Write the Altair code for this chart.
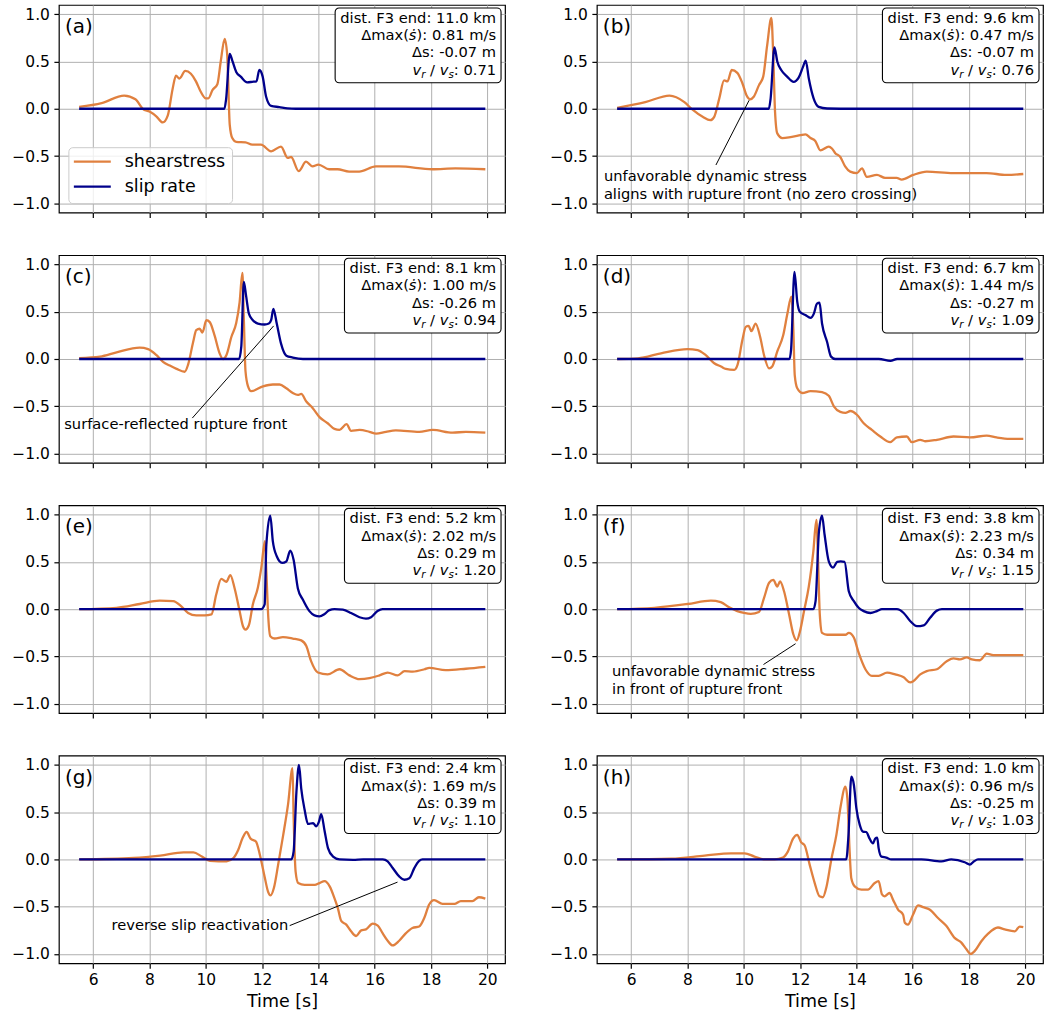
import altair as alt
import pandas as pd

# ---------------- data ----------------
SERIES = ["shearstress", "slip rate"]

SHEAR_A_T = [5.5, 6.3, 7.1, 7.5, 7.76, 8.0, 8.24, 8.47, 8.65, 8.82, 8.94, 9.06, 9.27, 9.47, 9.65, 9.82, 10.0, 10.09, 10.24, 10.41, 10.53, 10.67, 10.76, 10.85, 10.94, 11.08, 11.41, 11.65, 11.96, 12.32, 12.67, 12.91, 13.03, 13.3, 13.56, 13.79, 14.0, 14.38, 14.68, 15.09, 15.45, 16.04, 16.86, 18.04, 18.87, 19.93]
SHEAR_A_V = [0.02, 0.06, 0.14, 0.10, 0.0, -0.03, -0.08, -0.145, -0.07, 0.21, 0.35, 0.32, 0.40, 0.37, 0.29, 0.18, 0.11, 0.11, 0.20, 0.26, 0.50, 0.74, 0.57, -0.17, -0.31, -0.35, -0.355, -0.38, -0.38, -0.45, -0.40, -0.52, -0.51, -0.66, -0.56, -0.61, -0.59, -0.64, -0.64, -0.665, -0.665, -0.61, -0.61, -0.64, -0.63, -0.64]
SLIP_A_T = [5.5, 10.66, 10.72, 10.85, 10.94, 11.08, 11.24, 11.47, 11.65, 11.8, 11.9, 12.02, 12.14, 12.32, 12.61, 12.9, 13.2, 19.93]
SLIP_A_V = [0, 0, 0.1, 0.58, 0.51, 0.39, 0.34, 0.28, 0.285, 0.29, 0.41, 0.34, 0.13, 0.03, 0.018, 0.005, 0, 0]

SHEAR_B_T = [5.5, 6.5, 7.36, 7.89, 8.18, 8.54, 8.81, 8.95, 9.13, 9.30, 9.42, 9.57, 9.77, 9.95, 10.1, 10.22, 10.36, 10.54, 10.69, 10.83, 10.98, 11.05, 11.11, 11.19, 11.37, 11.66, 12.01, 12.19, 12.37, 12.54, 12.72, 13.02, 13.13, 13.25, 13.43, 13.6, 13.78, 14.02, 14.2, 14.37, 14.73, 15.02, 15.43, 15.61, 16.02, 16.5, 17.44, 18.62, 19.33, 19.93]
SHEAR_B_V = [0.01, 0.07, 0.14, 0.07, -0.01, -0.085, -0.12, -0.085, 0.11, 0.30, 0.29, 0.41, 0.38, 0.27, 0.14, 0.10, 0.13, 0.25, 0.34, 0.67, 0.96, 0.53, -0.03, -0.26, -0.31, -0.30, -0.28, -0.27, -0.31, -0.34, -0.44, -0.40, -0.42, -0.47, -0.51, -0.61, -0.665, -0.68, -0.63, -0.72, -0.70, -0.73, -0.73, -0.75, -0.70, -0.665, -0.68, -0.68, -0.70, -0.69]
SLIP_B_T = [5.5, 10.89, 10.95, 11.09, 11.19, 11.33, 11.54, 11.77, 11.95, 12.1, 12.2, 12.31, 12.48, 12.66, 12.96, 13.9, 19.93]
SLIP_B_V = [0, 0, 0.1, 0.65, 0.50, 0.41, 0.34, 0.285, 0.33, 0.44, 0.51, 0.32, 0.11, 0.02, 0.003, 0, 0]

SHEAR_C_T = [5.5, 6.24, 6.83, 7.65, 7.95, 8.25, 8.48, 8.72, 8.96, 9.25, 9.37, 9.55, 9.66, 9.78, 9.88, 10.02, 10.14, 10.31, 10.49, 10.61, 10.73, 10.91, 11.08, 11.2, 11.3, 11.35, 11.41, 11.5, 11.61, 12.03, 12.38, 12.62, 12.86, 13.09, 13.27, 13.39, 13.57, 13.8, 14.04, 14.33, 14.57, 14.75, 15.0, 15.16, 15.46, 15.81, 16.05, 16.4, 16.75, 17.58, 18.06, 18.77, 19.24, 19.93]
SHEAR_C_V = [0.01, 0.025, 0.07, 0.12, 0.105, 0.04, -0.03, -0.07, -0.105, -0.135, -0.06, 0.18, 0.305, 0.32, 0.28, 0.41, 0.39, 0.25, 0.06, 0.0, 0.04, 0.235, 0.38, 0.60, 0.91, 0.43, -0.13, -0.29, -0.34, -0.29, -0.27, -0.27, -0.31, -0.36, -0.38, -0.37, -0.45, -0.52, -0.615, -0.68, -0.74, -0.75, -0.69, -0.76, -0.75, -0.77, -0.79, -0.77, -0.755, -0.77, -0.75, -0.78, -0.77, -0.78]
SLIP_C_T = [5.5, 11.18, 11.26, 11.35, 11.43, 11.53, 11.67, 11.85, 12.09, 12.24, 12.32, 12.4, 12.52, 12.67, 12.86, 13.09, 13.45, 19.93]
SLIP_C_V = [0, 0, 0.13, 0.815, 0.67, 0.48, 0.41, 0.375, 0.365, 0.375, 0.41, 0.53, 0.375, 0.165, 0.035, 0.015, 0, 0]

SHEAR_D_T = [5.5, 6.24, 7.06, 8.0, 8.36, 8.65, 8.95, 9.19, 9.36, 9.66, 9.78, 9.95, 10.07, 10.17, 10.27, 10.42, 10.58, 10.72, 10.9, 11.01, 11.19, 11.4, 11.55, 11.69, 11.76, 11.81, 11.9, 12.08, 12.37, 12.78, 13.02, 13.2, 13.43, 13.61, 13.79, 14.02, 14.26, 14.55, 14.85, 15.2, 15.44, 15.79, 15.97, 16.27, 16.44, 16.86, 17.45, 18.04, 18.63, 18.98, 19.45, 19.93]
SHEAR_D_V = [0.0, 0.007, 0.06, 0.105, 0.095, 0.04, -0.045, -0.08, -0.105, -0.115, -0.06, 0.20, 0.34, 0.35, 0.295, 0.375, 0.235, 0.04, -0.10, -0.08, 0.08, 0.25, 0.48, 0.66, 0.32, -0.17, -0.31, -0.36, -0.34, -0.35, -0.39, -0.50, -0.56, -0.57, -0.55, -0.59, -0.68, -0.75, -0.82, -0.88, -0.83, -0.82, -0.88, -0.855, -0.87, -0.855, -0.82, -0.83, -0.81, -0.83, -0.845, -0.845]
SLIP_D_T = [5.5, 11.62, 11.68, 11.8, 11.9, 11.99, 12.19, 12.37, 12.49, 12.6, 12.69, 12.78, 12.96, 13.1, 13.25, 14.8, 15.21, 15.45, 19.93]
SLIP_D_V = [0, 0, 0.1, 0.92, 0.605, 0.50, 0.465, 0.435, 0.48, 0.585, 0.595, 0.375, 0.18, 0.025, 0, 0, -0.02, 0, 0]

SHEAR_E_T = [5.5, 6.83, 7.65, 8.36, 8.84, 9.13, 9.37, 9.66, 9.96, 10.2, 10.37, 10.55, 10.73, 10.87, 11.02, 11.2, 11.32, 11.41, 11.53, 11.67, 11.85, 11.97, 12.1, 12.15, 12.22, 12.29, 12.44, 12.74, 13.09, 13.39, 13.57, 13.74, 13.98, 14.33, 14.75, 15.1, 15.46, 15.81, 16.17, 16.46, 16.82, 17.06, 17.35, 17.77, 17.94, 18.52, 19.24, 19.93]
SHEAR_E_V = [0.0, 0.015, 0.055, 0.09, 0.085, 0.03, -0.04, -0.065, -0.065, -0.055, 0.155, 0.32, 0.29, 0.36, 0.225, -0.02, -0.18, -0.215, -0.17, 0.05, 0.23, 0.435, 0.72, 0.40, -0.09, -0.285, -0.31, -0.295, -0.31, -0.33, -0.39, -0.55, -0.67, -0.69, -0.635, -0.70, -0.74, -0.73, -0.70, -0.67, -0.70, -0.655, -0.66, -0.635, -0.62, -0.645, -0.63, -0.61]
SLIP_E_T = [5.5, 11.97, 12.09, 12.15, 12.29, 12.38, 12.52, 12.71, 12.86, 13.0, 13.12, 13.27, 13.45, 13.68, 13.86, 14.04, 14.22, 14.39, 14.57, 14.87, 15.16, 15.46, 15.69, 15.87, 16.1, 16.28, 19.93]
SLIP_E_V = [0, 0, 0.05, 0.68, 0.99, 0.72, 0.56, 0.49, 0.505, 0.62, 0.52, 0.22, 0.10, -0.02, -0.065, -0.075, -0.05, -0.01, 0, -0.005, -0.04, -0.085, -0.10, -0.085, -0.02, 0, 0]

SHEAR_F_T = [5.5, 6.83, 8.01, 8.83, 9.18, 9.48, 9.77, 10.01, 10.25, 10.54, 10.72, 10.9, 11.05, 11.19, 11.29, 11.43, 11.61, 11.76, 11.88, 12.0, 12.14, 12.31, 12.47, 12.58, 12.64, 12.7, 12.78, 12.96, 13.32, 13.61, 13.73, 13.91, 14.08, 14.32, 14.55, 14.79, 15.09, 15.38, 15.68, 15.91, 16.03, 16.27, 16.5, 16.86, 17.21, 17.45, 17.68, 17.92, 18.1, 18.39, 18.63, 18.86, 19.33, 19.93]
SHEAR_F_V = [0.0, 0.015, 0.055, 0.09, 0.075, 0.02, -0.02, -0.04, -0.05, -0.03, 0.12, 0.28, 0.31, 0.24, 0.295, 0.19, -0.055, -0.265, -0.33, -0.23, -0.02, 0.24, 0.61, 0.945, 0.50, -0.055, -0.25, -0.27, -0.27, -0.27, -0.25, -0.30, -0.46, -0.635, -0.705, -0.705, -0.67, -0.69, -0.72, -0.775, -0.76, -0.69, -0.655, -0.635, -0.55, -0.52, -0.53, -0.51, -0.53, -0.54, -0.47, -0.485, -0.485, -0.485]
SLIP_F_T = [5.5, 12.47, 12.55, 12.67, 12.78, 12.87, 13.02, 13.17, 13.32, 13.44, 13.58, 13.73, 13.91, 14.08, 14.26, 14.5, 14.73, 14.91, 15.44, 15.68, 15.91, 16.15, 16.39, 16.62, 16.86, 17.04, 19.93]
SLIP_F_V = [0, 0, 0.085, 0.82, 0.99, 0.79, 0.505, 0.44, 0.50, 0.505, 0.50, 0.19, 0.085, 0.015, -0.02, -0.04, -0.02, 0, 0, -0.04, -0.125, -0.18, -0.17, -0.09, -0.015, 0, 0]

SHEAR_G_T = [5.5, 7.44, 8.38, 9.21, 9.56, 9.86, 10.15, 10.45, 10.74, 10.98, 11.15, 11.31, 11.45, 11.59, 11.78, 11.92, 12.1, 12.21, 12.3, 12.42, 12.57, 12.75, 12.92, 13.08, 13.12, 13.19, 13.28, 13.51, 13.87, 14.04, 14.22, 14.4, 14.57, 14.69, 14.81, 14.99, 15.16, 15.34, 15.52, 15.69, 15.93, 16.11, 16.28, 16.46, 16.64, 16.87, 17.11, 17.34, 17.58, 17.76, 17.93, 18.11, 18.41, 18.83, 19.06, 19.23, 19.47, 19.7, 19.93]
SHEAR_G_V = [0.0, 0.015, 0.04, 0.075, 0.075, 0.03, -0.015, -0.02, -0.02, 0.015, 0.10, 0.23, 0.29, 0.22, 0.19, 0.05, -0.20, -0.34, -0.38, -0.30, -0.055, 0.26, 0.58, 0.965, 0.44, -0.13, -0.25, -0.27, -0.27, -0.25, -0.23, -0.285, -0.41, -0.515, -0.65, -0.69, -0.76, -0.81, -0.75, -0.74, -0.68, -0.70, -0.78, -0.86, -0.91, -0.86, -0.78, -0.725, -0.71, -0.62, -0.48, -0.43, -0.47, -0.47, -0.44, -0.44, -0.44, -0.40, -0.415]
SLIP_G_T = [5.5, 13.04, 13.12, 13.22, 13.31, 13.39, 13.51, 13.63, 13.81, 13.92, 14.02, 14.1, 14.22, 14.34, 14.52, 14.75, 15.23, 15.59, 16.29, 16.46, 16.64, 16.87, 17.05, 17.23, 17.41, 17.58, 17.7, 19.93]
SLIP_G_V = [0, 0, 0.085, 0.72, 1.0, 0.75, 0.525, 0.375, 0.385, 0.35, 0.40, 0.48, 0.30, 0.12, 0.03, 0, -0.005, 0, 0, -0.02, -0.09, -0.18, -0.215, -0.20, -0.09, -0.015, 0, 0]

SHEAR_H_T = [5.5, 7.42, 8.61, 9.55, 10.03, 10.38, 10.74, 11.09, 11.39, 11.57, 11.75, 11.9, 12.04, 12.16, 12.34, 12.52, 12.69, 12.81, 12.93, 13.11, 13.29, 13.44, 13.61, 13.68, 13.76, 13.82, 13.94, 14.18, 14.41, 14.65, 14.79, 14.91, 15.0, 15.18, 15.3, 15.48, 15.66, 15.72, 15.83, 16.01, 16.19, 16.37, 16.6, 16.9, 17.2, 17.49, 17.73, 17.91, 18.06, 18.2, 18.44, 18.68, 19.03, 19.27, 19.63, 19.8, 19.93]
SHEAR_H_V = [0.0, 0.007, 0.04, 0.065, 0.065, 0.03, 0.0, 0.0, 0.02, 0.085, 0.22, 0.26, 0.18, 0.15, -0.055, -0.25, -0.39, -0.40, -0.30, 0.0, 0.26, 0.56, 0.77, 0.645, 0.085, -0.20, -0.285, -0.32, -0.32, -0.25, -0.23, -0.37, -0.39, -0.355, -0.425, -0.53, -0.585, -0.67, -0.69, -0.585, -0.485, -0.505, -0.53, -0.62, -0.705, -0.83, -0.88, -0.95, -1.0, -0.97, -0.865, -0.785, -0.72, -0.74, -0.76, -0.71, -0.715]
SLIP_H_T = [5.5, 13.64, 13.72, 13.82, 13.91, 14.0, 14.12, 14.23, 14.35, 14.47, 14.59, 14.67, 14.74, 14.79, 14.89, 15.06, 15.24, 16.31, 17.02, 17.37, 17.85, 18.03, 18.18, 18.32, 19.93]
SLIP_H_V = [0, 0, 0.26, 0.875, 0.79, 0.54, 0.365, 0.295, 0.29, 0.22, 0.17, 0.22, 0.23, 0.12, 0.03, 0.02, 0, 0, -0.02, 0, -0.03, -0.055, -0.02, 0, 0]

PANEL_IDS = ["a", "b", "c", "d", "e", "f", "g", "h"]
DIST_KM = [11.0, 9.6, 8.1, 6.7, 5.2, 3.8, 2.4, 1.0]
DMAX = [0.81, 0.47, 1.00, 1.44, 2.02, 2.23, 1.69, 0.96]
DSLIP = ["-0.07", "-0.07", "-0.26", "-0.27", "0.29", "0.34", "0.39", "-0.25"]
VR_VS = [0.71, 0.76, 0.94, 1.09, 1.20, 1.15, 1.10, 1.03]

# annotations: text lines, text anchor (time, value), connector from (x0,y0) to (x1,y1)
ANNOTATIONS = {
    1: dict(lines=["unfavorable dynamic stress", "aligns with rupture front (no zero crossing)"],
            tx=5.03, ty=-0.72, x0=9.01, y0=-0.595, x1=10.19, y1=0.09),
    2: dict(lines=["surface-reflected rupture front"],
            tx=4.97, ty=-0.70, x0=9.52, y0=-0.625, x1=12.41, y1=0.35),
    5: dict(lines=["unfavorable dynamic stress", "in front of rupture front"],
            tx=5.32, ty=-0.66, x0=10.70, y0=-0.585, x1=11.84, y1=-0.365),
    6: dict(lines=["reverse slip reactivation"],
            tx=6.65, ty=-0.70, x0=12.98, y0=-0.70, x1=16.81, y1=-0.24),
}

SHEAR_T = [SHEAR_A_T, SHEAR_B_T, SHEAR_C_T, SHEAR_D_T, SHEAR_E_T, SHEAR_F_T, SHEAR_G_T, SHEAR_H_T]
SHEAR_V = [SHEAR_A_V, SHEAR_B_V, SHEAR_C_V, SHEAR_D_V, SHEAR_E_V, SHEAR_F_V, SHEAR_G_V, SHEAR_H_V]
SLIP_T = [SLIP_A_T, SLIP_B_T, SLIP_C_T, SLIP_D_T, SLIP_E_T, SLIP_F_T, SLIP_G_T, SLIP_H_T]
SLIP_V = [SLIP_A_V, SLIP_B_V, SLIP_C_V, SLIP_D_V, SLIP_E_V, SLIP_F_V, SLIP_G_V, SLIP_H_V]

XTICKS = [6, 8, 10, 12, 14, 16, 18, 20]
YTICKS = [-1.0, -0.5, 0.0, 0.5, 1.0]

# ---------------- style ----------------
ORANGE = "#e0803f"
BLUE = "#00008b"
FONT = "DejaVu Sans"
W, H = 447, 208
XDOM = [4.78, 20.63]
YDOM = [-1.098, 1.098]
BOX_FS = 14.7
ANN_FS = 14.7
ANN_LINE = 0.19  # second annotation line offset in data units

CW = {' ': 0.318, '.': 0.318, ':': 0.337, '-': 0.361, '(': 0.390, ')': 0.390, '/': 0.337,
      'Δ': 0.684, 'F': 0.575, 'a': 0.613, 'c': 0.550, 'd': 0.635, 'e': 0.615, 'i': 0.278,
      'k': 0.579, 'm': 0.974, 'n': 0.634, 's': 0.521, 't': 0.392, 'x': 0.592, 'v': 0.592,
      'r': 0.411, 'ṡ': 0.521}


def tw(s, size):
    return sum(CW.get(c, 0.636) for c in s) * size


ONE = pd.DataFrame({"k": [0]})


def vtext(x, y, s, size, align="right", style="normal", color="black"):
    return alt.Chart(ONE).mark_text(
        align=align, baseline="middle", font=FONT, fontSize=size,
        fontStyle=style, color=color
    ).encode(x=alt.value(x), y=alt.value(y), text=alt.value(s))


def make_panel(i):
    bottom = i >= 6
    st, sv, lt, lv = SHEAR_T[i], SHEAR_V[i], SLIP_T[i], SLIP_V[i]
    if len(st) != len(sv) or len(lt) != len(lv):
        raise ValueError(f"length mismatch in panel {PANEL_IDS[i]}")
    df = pd.DataFrame({
        "t": st + lt,
        "v": sv + lv,
        "series": [SERIES[0]] * len(st) + [SERIES[1]] * len(lt),
    })
    xsc = alt.Scale(domain=XDOM, nice=False, zero=False)
    ysc = alt.Scale(domain=YDOM, nice=False, zero=False)
    if bottom:
        xax = alt.Axis(values=XTICKS, format="d", title="Time [s]")
    else:
        xax = alt.Axis(values=XTICKS, format="d", labels=False, title=None)
    yax = alt.Axis(values=YTICKS, format=".1f", title=None)

    layers = []
    lines = alt.Chart(df).mark_line(strokeWidth=2.3, interpolate="monotone").encode(
        x=alt.X("t:Q", scale=xsc, axis=xax),
        y=alt.Y("v:Q", scale=ysc, axis=yax),
        color=alt.Color("series:N", scale=alt.Scale(domain=SERIES, range=[ORANGE, BLUE]), legend=None),
        detail="series:N",
    )
    layers.append(lines)

    # annotation with connector
    if i in ANNOTATIONS:
        a = ANNOTATIONS[i]
        seg = pd.DataFrame({"x0": [a["x0"]], "y0": [a["y0"]], "x1": [a["x1"]], "y1": [a["y1"]]})
        layers.append(alt.Chart(seg).mark_rule(color="black", strokeWidth=1).encode(
            x=alt.X("x0:Q", scale=xsc, axis=xax), y=alt.Y("y0:Q", scale=ysc, axis=yax),
            x2="x1:Q", y2="y1:Q"))
        tdf = pd.DataFrame({
            "t": [a["tx"]] * len(a["lines"]),
            "v": [a["ty"] - k * ANN_LINE for k in range(len(a["lines"]))],
            "label": a["lines"],
        })
        layers.append(alt.Chart(tdf).mark_text(
            align="left", baseline="middle", font=FONT, fontSize=ANN_FS, color="black"
        ).encode(x=alt.X("t:Q", scale=xsc, axis=xax), y=alt.Y("v:Q", scale=ysc, axis=yax),
                 text="label:N"))

    # info box (top right)
    l1 = f"dist. F3 end: {DIST_KM[i]:.1f} km"
    l3 = f"Δs: {DSLIP[i]} m"
    l2c = f"): {DMAX[i]:.2f} m/s"
    l4e = f": {VR_VS[i]:.2f}"
    xr = W - 9
    bw = tw(l1, BOX_FS)
    layers.append(alt.Chart(ONE).mark_rect(
        fill="white", stroke="black", strokeWidth=1.1, cornerRadius=4
    ).encode(x=alt.value(xr - bw - 5), x2=alt.value(W - 4), y=alt.value(3), y2=alt.value(78)))
    ys = [13.8, 31.2, 48.6, 66.0]
    layers.append(vtext(xr, ys[0], l1, BOX_FS))
    # line 2: Δmax(ṡ): x.xx m/s
    w_c = tw(l2c, BOX_FS)
    layers.append(vtext(xr, ys[1], l2c, BOX_FS))
    layers.append(vtext(xr - w_c, ys[1], "ṡ", BOX_FS, style="italic"))
    layers.append(vtext(xr - w_c - tw("s", BOX_FS), ys[1], "Δmax(", BOX_FS))
    layers.append(vtext(xr, ys[2], l3, BOX_FS))
    # line 4: v_r / v_s: x.xx
    sub = BOX_FS * 0.7
    p = xr
    layers.append(vtext(p, ys[3], l4e, BOX_FS))
    p -= tw(l4e, BOX_FS)
    layers.append(vtext(p, ys[3] + 4, "s", sub, style="italic"))
    p -= tw("s", sub)
    layers.append(vtext(p, ys[3], "v", BOX_FS, style="italic"))
    p -= tw("v ", BOX_FS)
    layers.append(vtext(p, ys[3], "/", BOX_FS))
    p -= tw("/ ", BOX_FS)
    layers.append(vtext(p, ys[3] + 4, "r", sub, style="italic"))
    p -= tw("r", sub)
    layers.append(vtext(p, ys[3], "v", BOX_FS, style="italic"))

    # panel label
    layers.append(vtext(6, 22, f"({PANEL_IDS[i]})", 20, align="left"))

    # legend in panel (a)
    if i == 0:
        layers.append(alt.Chart(ONE).mark_rect(
            fill="white", fillOpacity=0.8, stroke="#cccccc", strokeWidth=1, cornerRadius=4
        ).encode(x=alt.value(10), x2=alt.value(174), y=alt.value(143), y2=alt.value(199)))
        for k, (name, col) in enumerate(zip(SERIES, [ORANGE, BLUE])):
            yy = 157 + 25 * k
            layers.append(alt.Chart(ONE).mark_rule(color=col, strokeWidth=2.3).encode(
                x=alt.value(15), x2=alt.value(52), y=alt.value(yy)))
            layers.append(vtext(66, yy, name, 17.5, align="left"))

    return alt.layer(*layers).properties(width=W, height=H)


panels = [make_panel(i) for i in range(8)]
rows = [alt.hconcat(panels[2 * r], panels[2 * r + 1], spacing=43) for r in range(4)]

chart = alt.vconcat(*rows, spacing=34.7).properties(
    padding={"left": 11, "top": 3, "right": 0, "bottom": 4}
).configure(
    font=FONT, background="white"
).configure_view(
    stroke="black", strokeWidth=1.2
).configure_axis(
    domain=False, grid=True, gridColor="#b0b0b0", gridWidth=1.0,
    tickColor="black", tickSize=5, tickWidth=1.2,
    labelColor="black", labelFont=FONT, labelFontSize=15.5, labelPadding=4.5,
    titleFont=FONT, titleFontSize=17.5, titleFontWeight="normal", titleColor="black",
    titlePadding=4,
)

chart.save("out.html", embed_options={"renderer": "svg", "actions": False})
